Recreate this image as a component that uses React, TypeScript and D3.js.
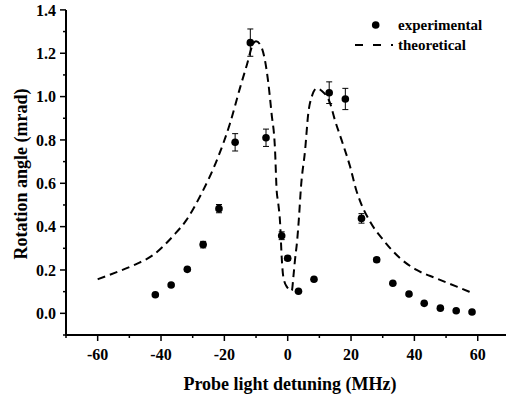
import React from 'react';
import * as d3 from 'd3';

// experimental points (MHz, mrad) and their error bars
const expDetuning = [-41.8, -36.8, -31.7, -26.7, -21.7, -16.6, -11.8, -6.85, -1.9, 0, 3.4, 8.3, 13.1, 18.2, 23.3, 28.1, 33.2, 38.3, 43.1, 48.2, 53.2, 58.2];
const expAngle = [0.086, 0.131, 0.203, 0.317, 0.483, 0.789, 1.249, 0.81, 0.358, 0.254, 0.102, 0.157, 1.018, 0.989, 0.438, 0.247, 0.139, 0.089, 0.046, 0.024, 0.012, 0.006];
const expError = [0.004, 0.005, 0.008, 0.015, 0.019, 0.04, 0.063, 0.04, 0.018, 0.01, 0.004, 0.008, 0.05, 0.049, 0.022, 0.01, 0.005, 0.004, 0.004, 0.004, 0.004, 0.004];

// theoretical curve
const theoDetuning = [-60, -54, -48, -42.4, -36, -32, -27.5, -22, -18.2, -15.1, -12.9, -11, -10, -8.5, -7.2, -6.1, -5.1, -4, -3.5, -3, -2.4, -1.9, -1.4, -0.3, 1.3, 1.8, 2.3, 3, 3.5, 4.2, 5.5, 6.5, 7.6, 9.2, 10.7, 13.4, 14.9, 17, 19.7, 21.8, 22.8, 26, 30.2, 35.5, 40.7, 47, 53.4, 58.1];
const theoAngle = [0.157, 0.19, 0.226, 0.27, 0.36, 0.43, 0.545, 0.72, 0.877, 1.038, 1.146, 1.24, 1.255, 1.235, 1.169, 1.061, 0.923, 0.754, 0.57, 0.51, 0.417, 0.26, 0.169, 0.123, 0.105, 0.169, 0.246, 0.338, 0.43, 0.584, 0.754, 0.923, 1.0, 1.038, 1.027, 0.969, 0.892, 0.8, 0.677, 0.561, 0.52, 0.423, 0.338, 0.254, 0.2, 0.161, 0.123, 0.095];

const xTicks = [-60, -40, -20, 0, 20, 40, 60];
const xMinor = [-70, -50, -30, -10, 10, 30, 50, 70];
const yTicks = [0, 0.2, 0.4, 0.6, 0.8, 1.0, 1.2, 1.4];
const yMinor = [-0.1, 0.1, 0.3, 0.5, 0.7, 0.9, 1.1, 1.3];

const W = 506;
const H = 395;
const font = '"Liberation Serif", "Times New Roman", serif';

const App = () => {
  const x = d3.scaleLinear().domain([-70, 70]).range([66, 509.4]);
  const y = d3.scaleLinear().domain([-0.1, 1.4]).range([335, 9.9]);

  const theo = theoDetuning.map((d, i) => [d, theoAngle[i]] as [number, number]);
  const line = d3.line<[number, number]>()
    .x(d => x(d[0]))
    .y(d => y(d[1]))
    .curve(d3.curveMonotoneX);

  const x0 = x.range()[0];
  const yb = y.range()[0];

  return (
    <div style={{ position: 'fixed', left: 0, top: 0 }}>
      <svg width={W} height={H} viewBox={`0 0 ${W} ${H}`} style={{ display: 'block', background: '#fff' }}>
        {/* theory */}
        <path d={line(theo) || ''} fill="none" stroke="#000" strokeWidth={2} strokeDasharray="8 5" />

        {/* experimental */}
        <g>
          {expDetuning.map((d, i) => {
            const cx = x(d);
            const top = y(expAngle[i] + expError[i]);
            const bot = y(expAngle[i] - expError[i]);
            return (
              <g key={i}>
                <line x1={cx} x2={cx} y1={top} y2={bot} stroke="#000" strokeWidth={1} />
                <line x1={cx - 3} x2={cx + 3} y1={top} y2={top} stroke="#000" strokeWidth={1} />
                <line x1={cx - 3} x2={cx + 3} y1={bot} y2={bot} stroke="#000" strokeWidth={1} />
                <circle cx={cx} cy={y(expAngle[i])} r={3.8} fill="#000" />
              </g>
            );
          })}
        </g>

        {/* axes */}
        <line x1={x0} x2={x0} y1={y(1.4)} y2={yb} stroke="#000" strokeWidth={2} />
        <line x1={x0 - 1} x2={W} y1={yb} y2={yb} stroke="#000" strokeWidth={2} />

        {yTicks.map(t => (
          <g key={'y' + t}>
            <line x1={x0 - 6} x2={x0} y1={y(t)} y2={y(t)} stroke="#000" strokeWidth={1.5} />
            <text x={x0 - 10} y={y(t)} dy="0.35em" textAnchor="end" fontFamily={font} fontWeight="bold" fontSize={16}>
              {t.toFixed(1)}
            </text>
          </g>
        ))}
        {yMinor.map(t => (
          <line key={'ym' + t} x1={x0 - 3} x2={x0} y1={y(t)} y2={y(t)} stroke="#000" strokeWidth={1.5} />
        ))}

        {xTicks.map(t => (
          <g key={'x' + t}>
            <line x1={x(t)} x2={x(t)} y1={yb} y2={yb + 6} stroke="#000" strokeWidth={1.5} />
            <text x={x(t)} y={yb + 25} textAnchor="middle" fontFamily={font} fontWeight="bold" fontSize={16}>
              {t}
            </text>
          </g>
        ))}
        {xMinor.map(t => (
          <line key={'xm' + t} x1={x(t)} x2={x(t)} y1={yb} y2={yb + 3} stroke="#000" strokeWidth={1.5} />
        ))}

        {/* titles */}
        <text x={290} y={390} textAnchor="middle" fontFamily={font} fontWeight="bold" fontSize={18}>
          Probe light detuning (MHz)
        </text>
        <text transform="translate(27,174) rotate(-90)" textAnchor="middle" fontFamily={font} fontWeight="bold" fontSize={18}>
          Rotation angle (mrad)
        </text>

        {/* legend */}
        <circle cx={375.7} cy={25} r={3.8} fill="#000" />
        <text x={398} y={30} fontFamily={font} fontWeight="bold" fontSize={15}>experimental</text>
        <line x1={355} x2={393} y1={45} y2={45} stroke="#000" strokeWidth={2} strokeDasharray="8 10" />
        <text x={398} y={50} fontFamily={font} fontWeight="bold" fontSize={15}>theoretical</text>
      </svg>
    </div>
  );
};

export default App;
